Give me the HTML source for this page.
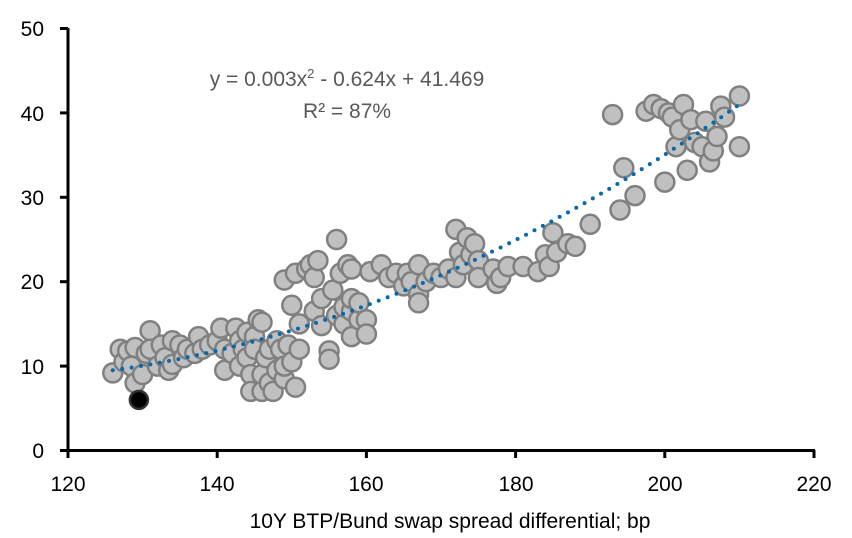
<!DOCTYPE html>
<html><head><meta charset="utf-8"><style>
html,body{margin:0;padding:0;background:#fff;}
svg{display:block;font-family:"Liberation Sans",Arial,sans-serif;}
</style></head><body>
<svg id="s" width="852" height="538" viewBox="0 0 852 538" xmlns="http://www.w3.org/2000/svg">
<g font-size="21" fill="#000" text-anchor="end">
<text x="44" y="458">0</text>
<text x="44" y="374">10</text>
<text x="44" y="289">20</text>
<text x="44" y="205">30</text>
<text x="44" y="121">40</text>
<text x="44" y="36">50</text>
</g>
<g font-size="21" fill="#000" text-anchor="middle">
<text x="68" y="491">120</text>
<text x="217" y="491">140</text>
<text x="366" y="491">160</text>
<text x="516" y="491">180</text>
<text x="665" y="491">200</text>
<text x="814" y="491">220</text>
<text x="450" y="528">10Y BTP/Bund swap spread differential; bp</text>
</g>
<g font-size="21" fill="#595959" text-anchor="middle">
<text x="347" y="86">y = 0.003x<tspan font-size="13" dy="-8">2</tspan><tspan dy="8"> - 0.624x + 41.469</tspan></text>
<text x="347" y="118">R² = 87%</text>
</g>
<g id="pts"></g>
<g stroke="#000" stroke-width="3" fill="none">
<line x1="68" y1="28" x2="68" y2="452"/>
<line x1="60" y1="450.5" x2="815" y2="450.5"/>
</g>
<g id="ticks" stroke="#000" stroke-width="3"></g>
</svg>
<script>
const X=v=>68+(v-120)*7.46, Y=v=>450.5-v*8.44;
const ns="http://www.w3.org/2000/svg";
const t=document.getElementById('ticks');
for(let i=0;i<=5;i++){let l=document.createElementNS(ns,'line');l.setAttribute('x1',60);l.setAttribute('x2',68);l.setAttribute('y1',Y(i*10));l.setAttribute('y2',Y(i*10));t.appendChild(l);
let m=document.createElementNS(ns,'line');m.setAttribute('x1',X(120+i*20));m.setAttribute('x2',X(120+i*20));m.setAttribute('y1',450);m.setAttribute('y2',458);t.appendChild(m);}
const d=[126,9.2,127,12,127.5,10.5,128,11.8,128.5,10,129,12.2,129,8,130,9,130.5,11.5,131,14.2,131,12,132,10,132.5,12.5,133,11,133.5,9.5,134,13,134,10.2,135,12.5,135.5,11,136,12,137,11.5,137.5,13.5,138,12,139,12.5,140,13,140.5,14.5,141,12,141,9.5,142,11.5,142.5,14.5,143,13,143,10,143.5,12,144,14,144,11,144.5,9,144.5,7,145,13.5,145,12,145.5,15.5,146,15.2,146,9,146,7,146.5,11,147,12,147,8,147.5,7,148,13,148,9.5,148.5,12,149,8.5,149,10,149.5,12.5,150,10.5,150.5,7.5,150,17.2,149,20.2,150.5,21,151,15,151,12,152,21.5,152.5,22,153,20.5,153,16.5,153.5,22.5,154,14.8,154,18,155,11.8,155,10.8,155.5,19,156,25,156,16,156.5,21,157,15,157,17,157.5,22,158,13.5,158,16.5,158,21.5,158,18,159,15.5,159,17.5,160,15.5,160,13.8,160.5,21.2,162,22,163,20.5,164,21,165,19.5,165.5,21,166,20,167,18.5,167,17.5,167,22,168,20,169,21,170,20.5,171,21.5,172,20.5,172,26.2,172.5,23.5,173,22,173.5,25.2,174,23.2,174.5,24.5,175,22.5,175,20.5,177,21.5,177.5,19.8,178,20.5,179,21.8,181,21.8,183,21.2,184,23.2,184.5,21.8,185,25.8,185.5,23.5,187,24.5,188,24.2,190,26.8,193,39.8,194,28.5,194.5,33.5,196,30.2,197.5,40.2,198.5,41,199.5,40.5,200,31.8,200.5,40,201,39.5,201.5,36,202,38,202.5,41,203,33.2,203.5,39.2,204,36.5,205,36,205.5,39,206,34.2,206.5,35.5,207,37.2,207.5,40.8,208,39.5,210,42,210,36];
const g=document.getElementById('pts');let h='';
for(let i=0;i<d.length;i+=2)h+=`<circle cx="${X(d[i]).toFixed(1)}" cy="${Y(d[i+1]).toFixed(1)}" r="9.5" fill="#c0c0c0" stroke="#808080" stroke-width="2.5"/>`;
h+=`<circle cx="${X(129.5)}" cy="${Y(6)}" r="9" fill="#000" stroke="#333" stroke-width="2.5"/>`;
let p='';for(let x=126;x<=210.01;x+=0.5){const dd=x-126;const y=9.5+0.002972*dd*dd+0.1254*dd;p+=(p?'L':'M')+X(x).toFixed(1)+','+Y(y).toFixed(1);}
h+=`<path d="${p}" fill="none" stroke="#0868a8" stroke-width="4" stroke-linecap="round" stroke-dasharray="0 9.5"/>`;
g.innerHTML=h;
</script>
</body></html>
